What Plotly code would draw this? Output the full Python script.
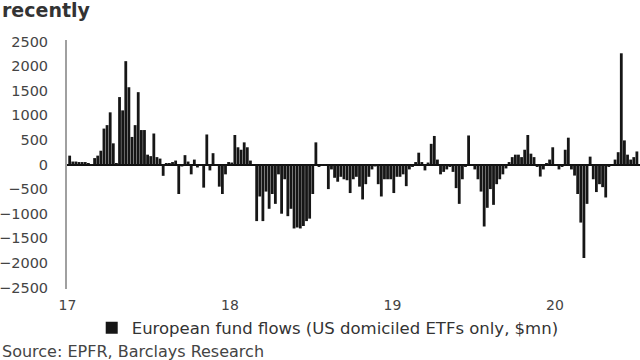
import pandas as pd
import plotly.graph_objects as go

# Weekly European fund flows (US domiciled ETFs only, $mn)
flows_2017 = [180, 60, 60, 50, 50, 50, 30, -20, 130, 180,
              280, 730, 800, 1060, 430, 20, 1370, 1100, 2100, 1570,
              560, 800, 1470, 700, 700, 200, 170, 630, 150, 120,
              -230, 20, 30, 50, 80, -600, -40, 190, 60, -200,
              100, -60, -30, -470, 610, -120, 230, -30, -450, -600,
              -200, 50]
flows_2018 = [40, 600, 350, 300, 450, 350, 80, 0, -1150, -650,
              -1150, -550, -900, -600, -800, -200, -1000, -300, -1050, -900,
              -1300, -1280, -1300, -1250, -1150, -1100, -600, 450, -50, -20,
              -30, -500, -100, -270, -350, -250, -300, -320, -580, -300,
              -250, -450, -710, -400, -250, -100, -40, -400, -650, -300,
              -300, -300]
flows_2019 = [-580, -250, -250, -200, -440, -100, -50, 50, 240, 50,
              -120, 40, 420, 580, 100, -200, -150, -100, -50, -150,
              -480, -800, -300, -50, 590, -30, -100, -300, -550, -1260,
              -880, -500, -820, -400, -300, -200, -80, 50, 150, 200,
              200, 150, 300, 600, 220, 150, -50, -245, -100, 30,
              100, 350]
flows_2020 = [-30, -100, -50, 300, 545, -100, -225, -600, -1180, -1900,
              -800, 160, -300, -560, -400, -460, -670, -50, 0, 100,
              250, 2260, 490, 200, 100, 150, 265]

first_week = "2017-01-06"
year_ticks = ["2017-01-01", "2018-01-01", "2019-01-01", "2020-01-01"]
year_labels = ["17", "18", "19", "20"]
y_ticks = [2500, 2000, 1500, 1000, 500, 0, -500, -1000, -1500, -2000, -2500]

flows = flows_2017 + flows_2018 + flows_2019 + flows_2020
weeks = pd.date_range(first_week, periods=len(flows), freq="7D")

series_name = "European fund flows (US domiciled ETFs only, $mn)"

fig = go.Figure(
    go.Bar(
        x=weeks,
        y=flows,
        name=series_name,
        marker=dict(color="#161616", line=dict(width=0)),
        showlegend=True,
    )
)

# plot area: x 67..640, y 40..289
PL, PR, PT, PB = 67, 0, 40, 71
W, H = 640, 360
ph = H - PT - PB


def py(pix):
    return (H - PB - pix) / ph


fig.update_layout(
    width=W,
    height=H,
    margin=dict(l=PL, r=PR, t=PT, b=PB, autoexpand=False),
    paper_bgcolor="white",
    plot_bgcolor="white",
    bargap=0.1,
    font=dict(family="DejaVu Sans", color="#444444"),
    xaxis=dict(
        type="date",
        automargin=False,
        range=["2016-12-31", "2020-07-10"],
        tickvals=year_ticks,
        ticktext=year_labels,
        showgrid=False,
        zeroline=False,
        showline=False,
        ticks="outside",
        ticklen=3,
        tickcolor="rgba(0,0,0,0)",
        tickfont=dict(size=14, color="#444444"),
    ),
    yaxis=dict(
        automargin=False,
        range=[-2530, 2530],
        tickvals=y_ticks,
        showgrid=False,
        zeroline=True,
        zerolinecolor="#111111",
        zerolinewidth=1.5,
        showline=True,
        linecolor="#a0a0a0",
        linewidth=2,
        ticks="outside",
        ticklen=14,
        tickcolor="rgba(0,0,0,0)",
        tickfont=dict(size=14.5, color="#444444"),
    ),
    legend=dict(
        orientation="h",
        x=0.455,
        xanchor="center",
        yref="container",
        y=1 - 328 / H,
        yanchor="middle",
        font=dict(size=16.5, color="#333333"),
        itemwidth=30,
    ),
    annotations=[
        dict(
            text="<b>recently</b>",
            xref="paper", yref="paper",
            x=-PL / (W - PL - PR), y=py(10),
            xanchor="left", yanchor="middle",
            showarrow=False,
            font=dict(size=19, color="#333333", family="DejaVu Sans"),
        ),
        dict(
            text="Source: EPFR, Barclays Research",
            xref="paper", yref="paper",
            x=-PL / (W - PL - PR), y=py(351),
            xanchor="left", yanchor="middle",
            showarrow=False,
            font=dict(size=16, color="#444444", family="DejaVu Sans"),
        ),
    ],
)

fig.write_html(
    "out.html",
    config={"displayModeBar": False},
    post_script="document.body.style.margin='0';document.body.style.overflow='hidden';",
)
